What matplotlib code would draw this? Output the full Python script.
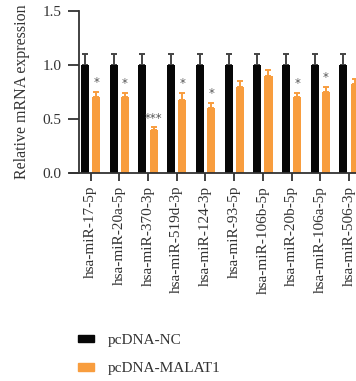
import matplotlib
matplotlib.use("Agg")
import matplotlib.pyplot as plt
from matplotlib.patches import Patch
import numpy as np

# miRNA expression after MALAT1 overexpression
mirnas = ["hsa-miR-17-5p", "hsa-miR-20a-5p", "hsa-miR-370-3p", "hsa-miR-519d-3p",
          "hsa-miR-124-3p", "hsa-miR-93-5p", "hsa-miR-106b-5p", "hsa-miR-20b-5p",
          "hsa-miR-106a-5p", "hsa-miR-506-3p"]
nc_mean = [1.0, 1.0, 1.0, 1.0, 1.0, 1.0, 1.0, 1.0, 1.0, 1.0]
nc_err = [0.1, 0.1, 0.1, 0.1, 0.1, 0.1, 0.1, 0.1, 0.1, 0.1]
malat_mean = [0.70, 0.70, 0.40, 0.68, 0.60, 0.80, 0.90, 0.70, 0.75, 0.82]
malat_err = [0.05, 0.04, 0.025, 0.06, 0.05, 0.05, 0.05, 0.04, 0.05, 0.05]
signif = ["*", "*", "***", "*", "*", "", "", "*", "*", ""]

black = "#070707"
orange = "#F89D3E"
grey = "#333333"

plt.rcParams["font.family"] = ["Liberation Serif", "DejaVu Serif"]
plt.rcParams["font.size"] = 11

W, H = 356, 381
fig = plt.figure(figsize=(W / 100, H / 100), dpi=100)
# axes run past the right edge, last group is cut off
ax = fig.add_axes([70 / W, 1 - 173.3 / H, 310 / W, 162.5 / H])

x = np.arange(len(mirnas))
off, bw = 0.195, 0.28
ax.bar(x - off, nc_mean, bw, color=black, zorder=2)
ax.bar(x + off, malat_mean, bw, color=orange, zorder=2)
ax.errorbar(x - off, nc_mean, yerr=[np.zeros(len(x)), nc_err], fmt="none",
            ecolor="#444444", elinewidth=1.4, capsize=2, capthick=1.4, zorder=1)
ax.errorbar(x + off, malat_mean, yerr=[np.zeros(len(x)), malat_err], fmt="none",
            ecolor=orange, elinewidth=1.4, capsize=2, capthick=1.4, zorder=1)

for xi, m, e, s in zip(x, malat_mean, malat_err, signif):
    if s:
        ax.text(xi + off, m + e + 0.025, s, ha="center", va="bottom",
                fontsize=8.5, color="#555555", family="DejaVu Sans")

ax.set_xlim(-0.72, 10.08)
ax.set_ylim(0, 1.5)
ax.set_yticks([0, 0.5, 1.0, 1.5])
ax.set_yticklabels(["0.0", "0.5", "1.0", "1.5"])
ax.set_xticks(x)
ax.set_xticklabels(mirnas, rotation=90)
ax.set_ylabel("Relative mRNA expression", color=grey, fontsize=11.5)
ax.yaxis.set_label_coords(-0.128, 0.5)

for side in ["top", "right"]:
    ax.spines[side].set_visible(False)
ax.spines["left"].set_position(("data", -0.41))
for side in ["left", "bottom"]:
    ax.spines[side].set_color(grey)
    ax.spines[side].set_linewidth(1.3)
ax.tick_params(axis="y", length=8, width=1.3, color=grey, labelcolor=grey, pad=4.5)
ax.tick_params(axis="x", length=6, width=1.3, color=grey, labelcolor=grey, pad=3)

handles = [Patch(color=black, label="pcDNA-NC"),
           Patch(color=orange, label="pcDNA-MALAT1")]
fig.legend(handles=handles, loc="upper left", bbox_to_anchor=(78 / W, 1 - 334 / H),
           frameon=False, borderpad=0, borderaxespad=0,
           handlelength=1.05, handleheight=0.4, handletextpad=0.9,
           labelspacing=1.0, fontsize=11, labelcolor=grey)

fig.savefig("out.png", dpi=100)
